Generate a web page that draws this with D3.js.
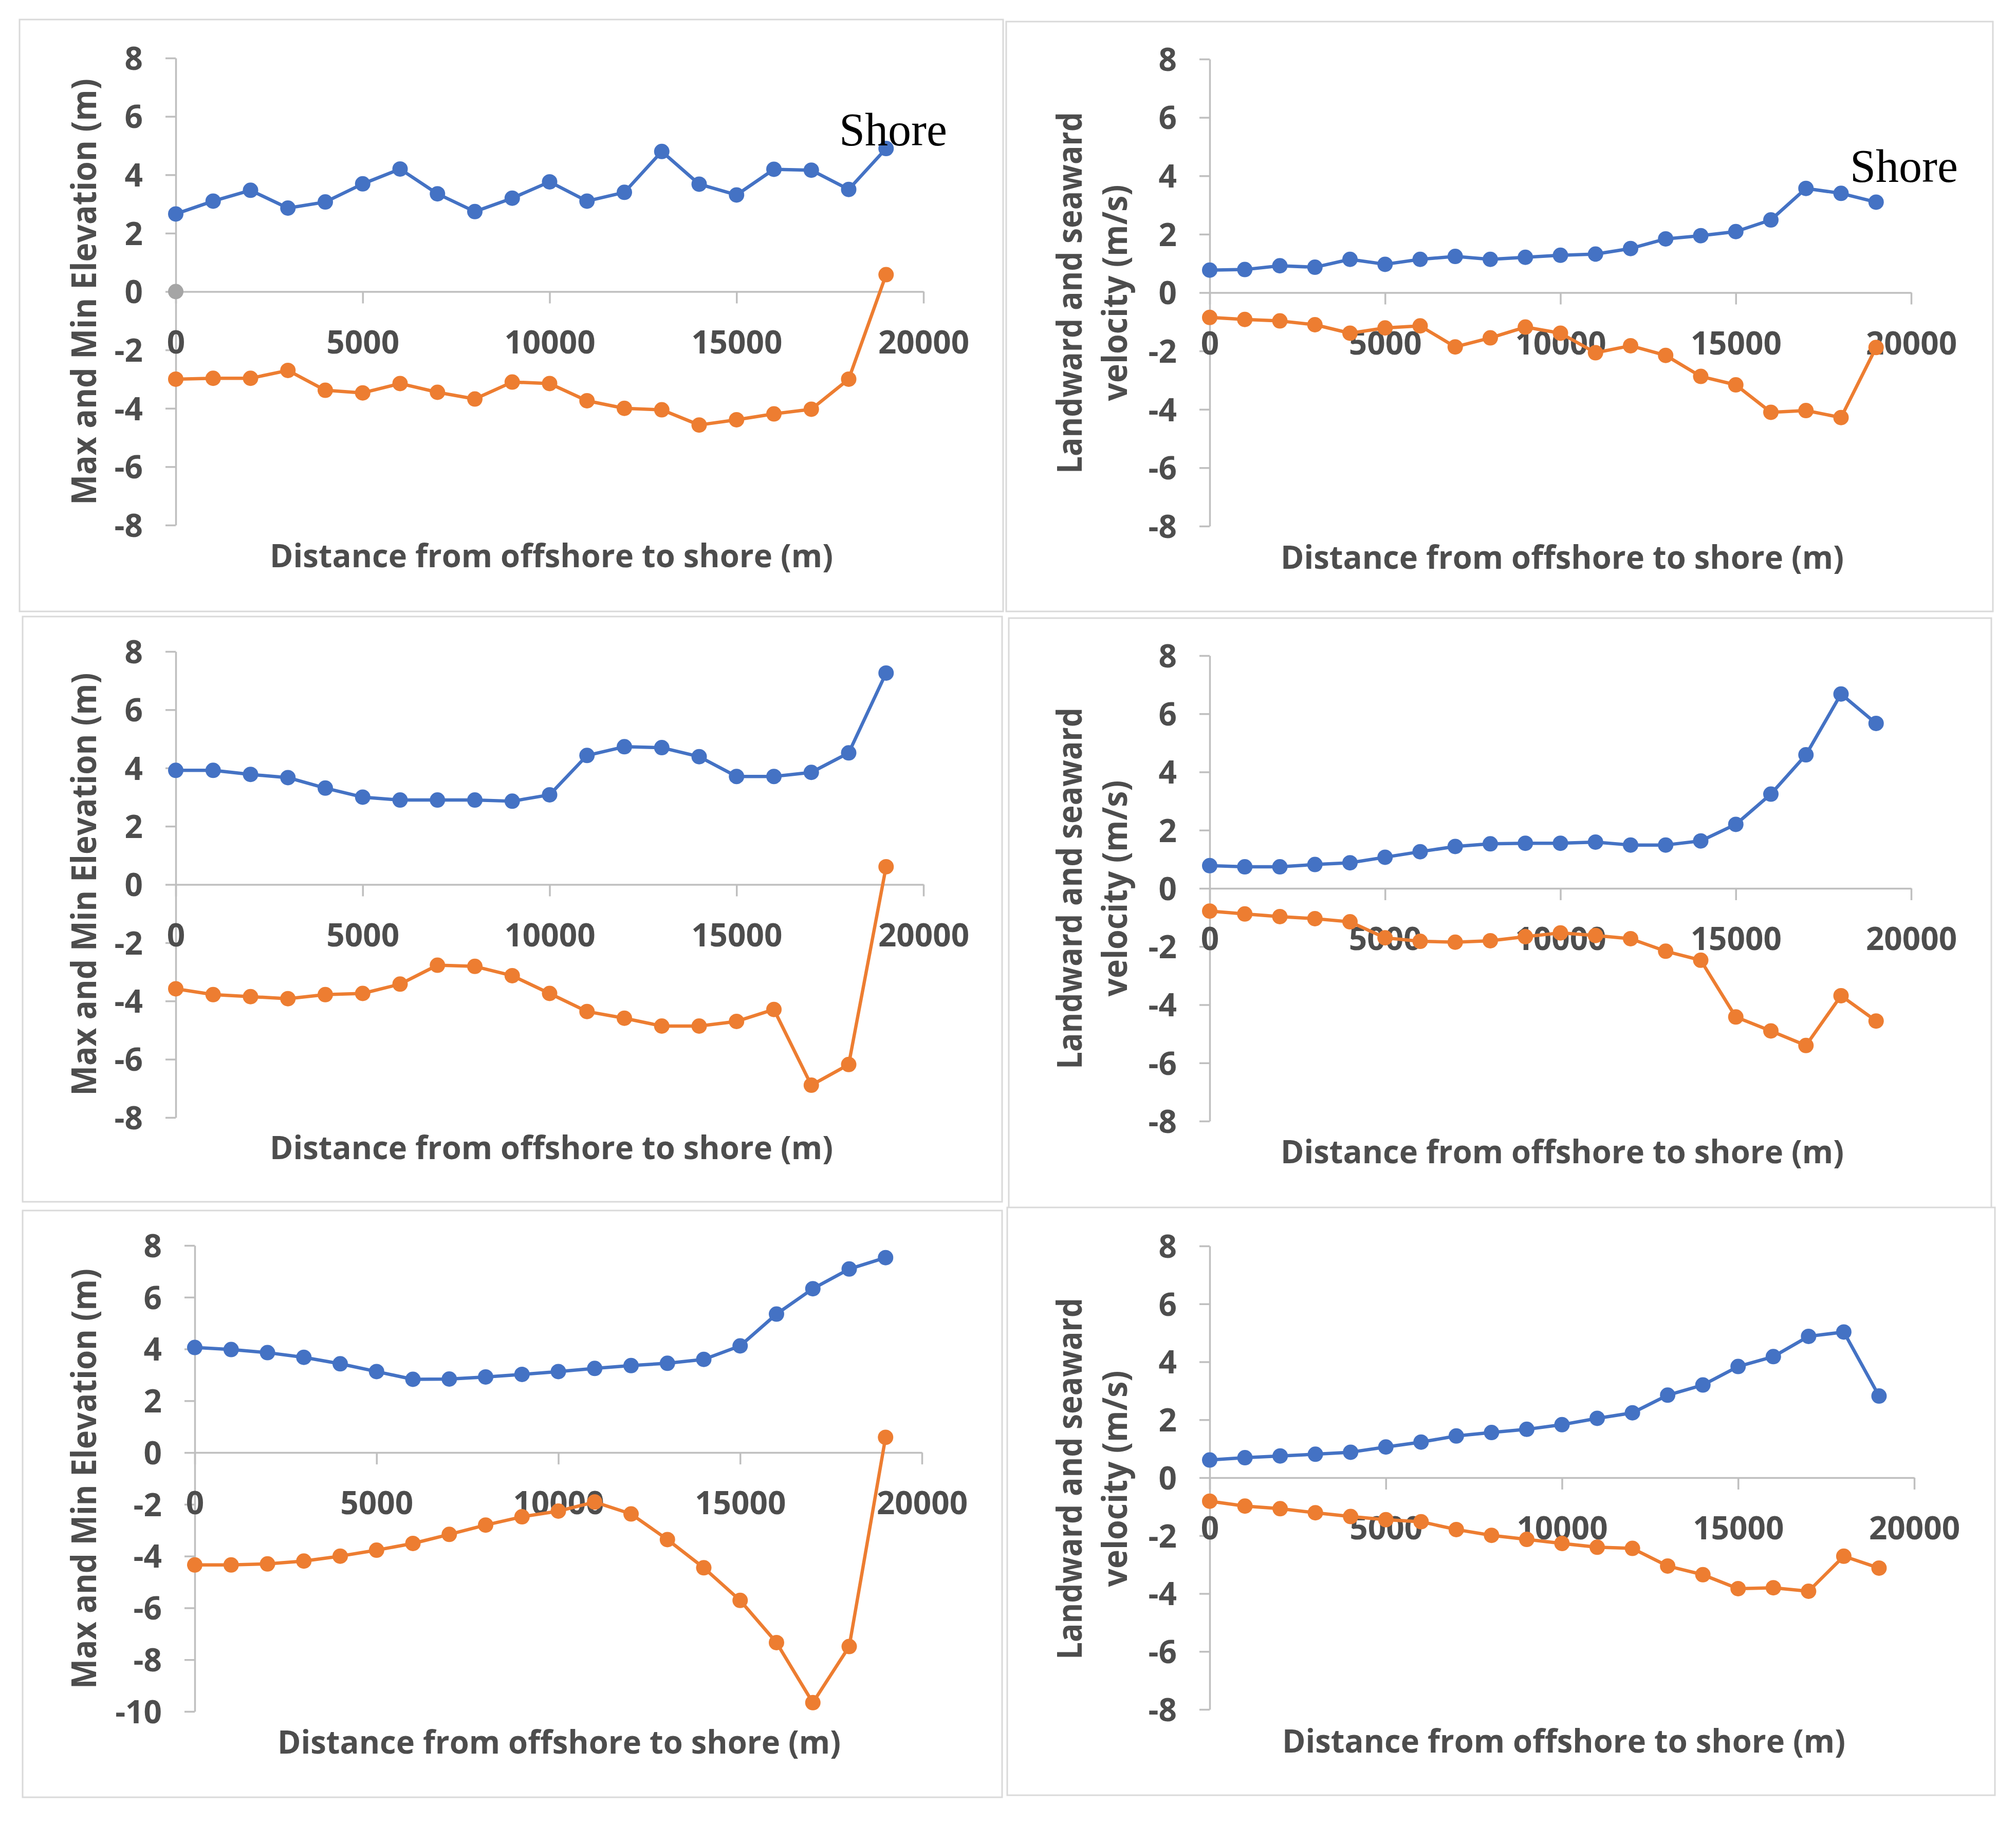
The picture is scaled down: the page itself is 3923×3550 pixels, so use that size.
<!DOCTYPE html>
<html>
<head>
<meta charset="utf-8">
<script src="https://cdn.jsdelivr.net/npm/d3@7"></script>
<style>
  html, body { margin: 0; padding: 0; background: #ffffff; }
  svg { display: block; }
</style>
</head>
<body>
<script>
// ---------------- DATA ----------------
const distance = [0,1000,2000,3000,4000,5000,6000,7000,8000,9000,10000,11000,12000,13000,14000,15000,16000,17000,18000,19000];
const xTickValues = [0,5000,10000,15000,20000];
const yTicksA = [8,6,4,2,0,-2,-4,-6,-8];
const yTicksB = [8,6,4,2,0,-2,-4,-6,-8,-10];

const elevMax1 = [2.66,3.1,3.47,2.86,3.07,3.69,4.2,3.35,2.74,3.2,3.76,3.1,3.4,4.8,3.68,3.31,4.19,4.16,3.5,4.9];
const elevMin1 = [-3.0,-2.97,-2.97,-2.7,-3.38,-3.47,-3.15,-3.45,-3.68,-3.1,-3.15,-3.74,-4.0,-4.05,-4.57,-4.39,-4.19,-4.03,-3.0,0.58];
const elevZero1 = [0];
const velLand1 = [0.77,0.79,0.92,0.87,1.14,0.97,1.14,1.24,1.14,1.21,1.28,1.32,1.51,1.84,1.95,2.09,2.49,3.57,3.4,3.1];
const velSea1 = [-0.85,-0.92,-0.97,-1.1,-1.39,-1.21,-1.14,-1.86,-1.55,-1.18,-1.39,-2.06,-1.82,-2.15,-2.87,-3.16,-4.1,-4.04,-4.28,-1.88];

const elevMax2 = [3.92,3.92,3.78,3.67,3.31,3.0,2.9,2.9,2.9,2.86,3.08,4.43,4.73,4.7,4.39,3.71,3.71,3.85,4.52,7.26];
const elevMin2 = [-3.58,-3.78,-3.85,-3.92,-3.78,-3.74,-3.42,-2.77,-2.81,-3.13,-3.74,-4.36,-4.59,-4.86,-4.86,-4.7,-4.29,-6.89,-6.18,0.61];
const velLand2 = [0.78,0.74,0.74,0.82,0.88,1.07,1.26,1.44,1.53,1.55,1.55,1.59,1.49,1.49,1.63,2.2,3.24,4.59,6.68,5.67];
const velSea2 = [-0.78,-0.88,-0.97,-1.04,-1.15,-1.7,-1.82,-1.85,-1.8,-1.66,-1.53,-1.62,-1.73,-2.16,-2.47,-4.42,-4.9,-5.4,-3.69,-4.56];

const elevMax3 = [4.06,3.98,3.86,3.68,3.43,3.13,2.83,2.84,2.92,3.02,3.13,3.25,3.36,3.45,3.6,4.12,5.35,6.33,7.09,7.53];
const elevMin3 = [-4.34,-4.34,-4.3,-4.19,-4.0,-3.77,-3.51,-3.16,-2.8,-2.48,-2.26,-1.91,-2.37,-3.36,-4.45,-5.71,-7.34,-9.66,-7.49,0.59];
const velLand3 = [0.61,0.69,0.75,0.81,0.88,1.06,1.23,1.44,1.56,1.67,1.83,2.05,2.24,2.85,3.2,3.84,4.18,4.88,5.03,2.82];
const velSea3 = [-0.81,-0.98,-1.07,-1.21,-1.34,-1.45,-1.52,-1.79,-1.99,-2.13,-2.27,-2.4,-2.44,-3.05,-3.35,-3.83,-3.8,-3.92,-2.71,-3.12];

const xTitle = "Distance from offshore to shore (m)";
const elevTitle = ["Max and Min Elevation (m)"];
const velTitle = ["Landward and seaward", "velocity (m/s)"];
const shoreText = "Shore";

// ---------------- STYLE / LAYOUT ----------------
const W = 3923, H = 3550;
const BLUE = "#4472C4", ORANGE = "#ED7D31", GREY = "#A5A5A5";
const AXIS = "#bfbfbf", TEXT = "#4d4d4d";

const panels = [
  { frame:[38,38,1952,1190], xr:[342,1797], yd:[-8,8], yr:[1022,113], yt:yTicksA,
    title:elevTitle, tx:[161], ty:568, tl:[830], xt:[1073,1080],
    series:[{v:elevMax1,c:BLUE},{v:elevMin1,c:ORANGE},{v:elevZero1,c:GREY}], shore:[1633,283] },
  { frame:[1958,42,3878,1190], xr:[2354,3719], yd:[-8,8], yr:[1024,115], yt:yTicksA,
    title:velTitle, tx:[2079,2167], ty:570, tl:[704,421], xt:[3040,1083],
    series:[{v:velLand1,c:BLUE},{v:velSea1,c:ORANGE}], shore:[3600,354] },
  { frame:[44,1200,1950,2339], xr:[342,1797], yd:[-8,8], yr:[2175,1268], yt:yTicksA,
    title:elevTitle, tx:[161], ty:1721, tl:[823], xt:[1073,2232],
    series:[{v:elevMax2,c:BLUE},{v:elevMin2,c:ORANGE}] },
  { frame:[1963,1203,3875,2351], xr:[2354,3719], yd:[-8,8], yr:[2182,1276], yt:yTicksA,
    title:velTitle, tx:[2079,2167], ty:1729, tl:[704,421], xt:[3040,2240],
    series:[{v:velLand2,c:BLUE},{v:velSea2,c:ORANGE}] },
  { frame:[44,2356,1950,3498], xr:[379,1794], yd:[-10,8], yr:[3331,2424], yt:yTicksB,
    title:elevTitle, tx:[161], ty:2878, tl:[818], xt:[1088,3389],
    series:[{v:elevMax3,c:BLUE},{v:elevMin3,c:ORANGE}] },
  { frame:[1960,2350,3882,3494], xr:[2354,3725], yd:[-8,8], yr:[3327,2425], yt:yTicksA,
    title:velTitle, tx:[2079,2167], ty:2878, tl:[704,421], xt:[3043,3387],
    series:[{v:velLand3,c:BLUE},{v:velSea3,c:ORANGE}] }
];

const svg = d3.select("body").append("svg")
  .attr("width", W).attr("height", H)
  .attr("viewBox", `0 0 ${W} ${H}`);
svg.append("rect").attr("width", W).attr("height", H).attr("fill", "#ffffff");

panels.forEach(p => {
  const g = svg.append("g");
  const [fx0, fy0, fx1, fy1] = p.frame;
  g.append("rect").attr("x", fx0).attr("y", fy0)
    .attr("width", fx1 - fx0).attr("height", fy1 - fy0)
    .attr("fill", "#ffffff").attr("stroke", "#d9d9d9").attr("stroke-width", 3);

  const x = d3.scaleLinear().domain([0, 20000]).range(p.xr);
  const y = d3.scaleLinear().domain(p.yd).range(p.yr);

  // Y axis
  const yAxis = d3.axisLeft(y).tickValues(p.yt).tickSize(20).tickSizeOuter(0)
    .tickPadding(44).tickFormat(d => String(d));
  const ya = g.append("g").attr("transform", `translate(${p.xr[0]},0)`).call(yAxis);

  // X axis at y = 0
  const xAxis = d3.axisBottom(x).tickValues(xTickValues).tickSize(23).tickSizeOuter(0)
    .tickPadding(53).tickFormat(d => String(d));
  const xa = g.append("g").attr("transform", `translate(0,${y(0)})`).call(xAxis);

  [ya, xa].forEach(a => {
    a.select(".domain").attr("stroke", AXIS).attr("stroke-width", 3.5);
    a.selectAll(".tick line").attr("stroke", AXIS).attr("stroke-width", 3.5);
    a.selectAll(".tick text").attr("fill", TEXT)
      .style("font-family", "'Open Sans', 'DejaVu Sans', sans-serif")
      .style("font-weight", 700).style("font-size", "62px");
  });
  ya.selectAll(".tick text").attr("dy", "0.36em");

  // axis titles
  p.title.forEach((t, i) => {
    g.append("text")
      .attr("transform", `translate(${p.tx[i]},${p.ty}) rotate(-90)`)
      .attr("text-anchor", "middle").attr("dominant-baseline", "central")
      .attr("fill", TEXT)
      .attr("textLength", p.tl[i]).attr("lengthAdjust", "spacingAndGlyphs")
      .style("font-family", "'Open Sans', 'DejaVu Sans', sans-serif")
      .style("font-weight", 700).style("font-size", "66px")
      .text(t);
  });
  g.append("text")
    .attr("x", p.xt[0]).attr("y", p.xt[1])
    .attr("text-anchor", "middle").attr("dominant-baseline", "central")
    .attr("fill", TEXT)
    .attr("textLength", 1096).attr("lengthAdjust", "spacingAndGlyphs")
    .style("font-family", "'Open Sans', sans-serif")
    .style("font-weight", 700).style("font-size", "62px")
    .text(xTitle);

  // series
  const line = d3.line().x((d, i) => x(distance[i])).y(d => y(d));
  p.series.forEach(s => {
    const sg = g.append("g");
    if (s.v.length > 1) {
      sg.append("path").datum(s.v).attr("d", line)
        .attr("fill", "none").attr("stroke", s.c).attr("stroke-width", 6.5)
        .attr("stroke-linejoin", "round");
    }
    sg.selectAll("circle").data(s.v).join("circle")
      .attr("cx", (d, i) => x(distance[i])).attr("cy", d => y(d))
      .attr("r", 15).attr("fill", s.c);
  });

  if (p.shore) {
    g.append("text").attr("x", p.shore[0]).attr("y", p.shore[1])
      .attr("fill", "#000000")
      .style("font-family", "'Liberation Serif', 'DejaVu Serif', serif")
      .style("font-size", "90px")
      .text(shoreText);
  }
});
</script>
</body>
</html>
